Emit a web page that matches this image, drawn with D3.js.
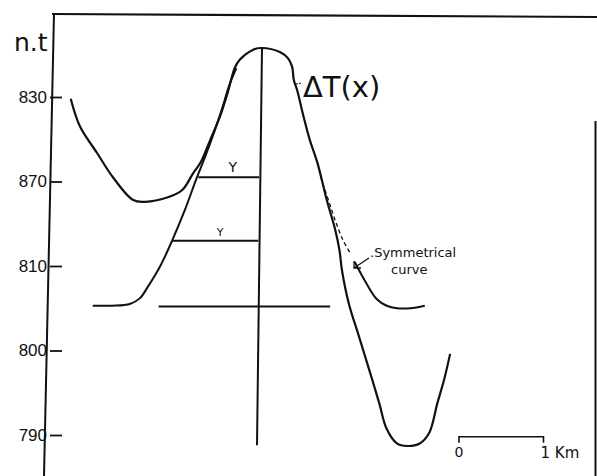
<!DOCTYPE html>
<html>
<head>
<meta charset="utf-8">
<script src="https://cdn.jsdelivr.net/npm/d3@7"></script>
<style>
  body { margin: 0; background: #fff; }
  text { font-family: "DejaVu Sans", sans-serif; fill: #111; }
</style>
</head>
<body>
<div id="chart"></div>
<script>

// tick values (bottom to top) and the labels printed on them
var yTickValues = [0, 1, 2, 3, 4];
var yTickLabels = ["790", "800", "810", "870", "830"];

// observed anomaly dT(x), x in km from the centre line, y in tick units
var anomalyX = [-2.24, -2.13, -1.93, -1.74, -1.50, -1.36, -1.10, -0.92, -0.79, -0.70, -0.59, -0.47, -0.38, -0.30,
  -0.24, -0.08, 0.02, 0.24, 0.33, 0.38, 0.40, 0.44, 0.51, 0.59, 0.68, 0.79, 0.89, 0.94, 0.97, 1.05, 1.17,
  1.29, 1.41, 1.50, 1.62, 1.74, 1.89, 2.00, 2.10, 2.18, 2.25];
var anomalyY = [3.98, 3.65, 3.34, 3.05, 2.78, 2.76, 2.81, 2.90, 3.10, 3.23, 3.49, 3.78, 4.06, 4.34,
  4.44, 4.56, 4.58, 4.53, 4.46, 4.36, 4.20, 4.08, 3.79, 3.49, 3.22, 2.78, 2.43, 2.19, 1.95, 1.56, 1.17,
  0.78, 0.38, 0.07, -0.10, -0.13, -0.10, 0.02, 0.38, 0.66, 0.96];

// symmetrical curve, left limb (solid)
var symLeftX = [-1.98, -1.75, -1.54, -1.42, -1.33, -1.18, -1.04, -0.89, -0.75, -0.65, -0.54, -0.44, -0.36, -0.28];
var symLeftY = [1.53, 1.53, 1.55, 1.62, 1.75, 2.00, 2.30, 2.66, 3.04, 3.29, 3.59, 3.89, 4.15, 4.34];

// symmetrical curve, right limb: dashed part then solid part
var symDashX = [0.68, 0.73, 0.81, 0.89, 0.98, 1.07];
var symDashY = [3.22, 3.02, 2.78, 2.54, 2.31, 2.15];
var symRightX = [1.12, 1.25, 1.38, 1.50, 1.62, 1.78, 1.95];
var symRightY = [2.05, 1.81, 1.61, 1.53, 1.50, 1.50, 1.53];

// horizontal construction lines: [x0, x1, y]
var widthLines = [[-0.73, -0.01, 3.05], [-1.04, -0.02, 2.30], [-1.20, 0.83, 1.52]];
var widthLabels = ["Y", "Y"];

// scale bar, km
var scaleBarStart = 2.355;
var scaleBarLength = 1;

var width = 597, height = 476;

var svg = d3.select("#chart").append("svg")
  .attr("width", width)
  .attr("height", height);

var x = d3.scaleLinear().domain([-2.5, 4]).range([48.75, 598]);
var y = d3.scaleLinear().domain([0, 4]).range([435, 97]);

var line = d3.line()
  .x(function(d) { return x(d[0]); })
  .y(function(d) { return y(d[1]); })
  .curve(d3.curveCatmullRom.alpha(0.5));

function pairs(xs, ys) {
  return xs.map(function(v, i) { return [v, ys[i]]; });
}

//frame
svg.append("line")
  .attr("x1", 52).attr("y1", 14).attr("x2", 597).attr("y2", 17)
  .attr("stroke", "#111").attr("stroke-width", 2.2);
svg.append("line")
  .attr("x1", 54).attr("y1", 13).attr("x2", 44).attr("y2", 476)
  .attr("stroke", "#111").attr("stroke-width", 2);
svg.append("line")
  .attr("x1", 595.5).attr("y1", 121).attr("x2", 595.5).attr("y2", 476)
  .attr("stroke", "#111").attr("stroke-width", 2);

//y axis
var yAxis = svg.append("g")
  .attr("transform", "translate(50,0)")
  .call(d3.axisLeft(y)
    .tickValues(yTickValues)
    .tickSize(-12)
    .tickPadding(3)
    .tickFormat(function(d) { return yTickLabels[d]; }));
yAxis.select(".domain").remove();
yAxis.selectAll(".tick line").attr("stroke", "#111").attr("stroke-width", 1.8);
yAxis.selectAll(".tick text")
  .style("font-family", "'Liberation Sans Narrow', 'Liberation Sans', sans-serif")
  .style("font-size", "17px")
  .attr("fill", "#111");

svg.append("text").text("n.t")
  .attr("x", 14).attr("y", 51)
  .style("font-size", "25px");

//centre line
svg.append("line")
  .attr("x1", x(0) + 2).attr("y1", y(4.59))
  .attr("x2", x(0) - 3).attr("y2", y(-0.12))
  .attr("stroke", "#111").attr("stroke-width", 2);

//width lines
svg.selectAll(".wline").data(widthLines).enter().append("line")
  .attr("class", "wline")
  .attr("x1", function(d) { return x(d[0]); })
  .attr("x2", function(d) { return x(d[1]); })
  .attr("y1", function(d) { return y(d[2]); })
  .attr("y2", function(d) { return y(d[2]); })
  .attr("stroke", "#111").attr("stroke-width", 2);

svg.append("text").text(widthLabels[0])
  .attr("x", x((widthLines[0][0] + widthLines[0][1]) / 2) + 4).attr("y", y(widthLines[0][2]) - 5)
  .attr("text-anchor", "middle")
  .style("font-size", "14px");
svg.append("text").text(widthLabels[1])
  .attr("x", x((widthLines[1][0] + widthLines[1][1]) / 2) + 5).attr("y", y(widthLines[1][2]) - 5)
  .attr("text-anchor", "middle")
  .style("font-size", "11px");

//curves
svg.append("path")
  .attr("d", line(pairs(anomalyX, anomalyY)))
  .attr("fill", "none").attr("stroke", "#111").attr("stroke-width", 2.2);
svg.append("path")
  .attr("d", line(pairs(symLeftX, symLeftY)))
  .attr("fill", "none").attr("stroke", "#111").attr("stroke-width", 2);
svg.append("path")
  .attr("d", line(pairs(symDashX, symDashY)))
  .attr("fill", "none").attr("stroke", "#111").attr("stroke-width", 1.3)
  .attr("stroke-dasharray", "4,3");
svg.append("path")
  .attr("d", line(pairs(symRightX, symRightY)))
  .attr("fill", "none").attr("stroke", "#111").attr("stroke-width", 2);

//labels
svg.append("line")
  .attr("x1", 296).attr("y1", 84).attr("x2", 302).attr("y2", 83)
  .attr("stroke", "#111").attr("stroke-width", 1).attr("stroke-dasharray", "2,1");
svg.append("text").text("\u0394T(x)")
  .attr("x", 303).attr("y", 97)
  .style("font-size", "29px");

svg.append("path")
  .attr("d", "M369,258 L354,268 M354,261 L354,268 L361,268")
  .attr("fill", "none").attr("stroke", "#111").attr("stroke-width", 1.3);
svg.append("text").text(".Symmetrical")
  .attr("x", 370).attr("y", 257)
  .style("font-size", "13px");
svg.append("text").text("curve")
  .attr("x", 391).attr("y", 274)
  .style("font-size", "13px");

//scale bar
var sb0 = x(scaleBarStart), sb1 = x(scaleBarStart + scaleBarLength), sbY = y(-0.02);
svg.append("path")
  .attr("d", "M" + sb0 + "," + (sbY + 6) + " L" + sb0 + "," + sbY + " L" + sb1 + "," + sbY + " L" + sb1 + "," + (sbY + 6))
  .attr("fill", "none").attr("stroke", "#111").attr("stroke-width", 1.6);
svg.append("text").text("0")
  .attr("x", sb0).attr("y", sbY + 20)
  .attr("text-anchor", "middle")
  .style("font-size", "14px");
svg.append("text").text("1 Km")
  .attr("x", sb1 - 3).attr("y", sbY + 21)
  .style("font-size", "15px");

</script>
</body>
</html>
